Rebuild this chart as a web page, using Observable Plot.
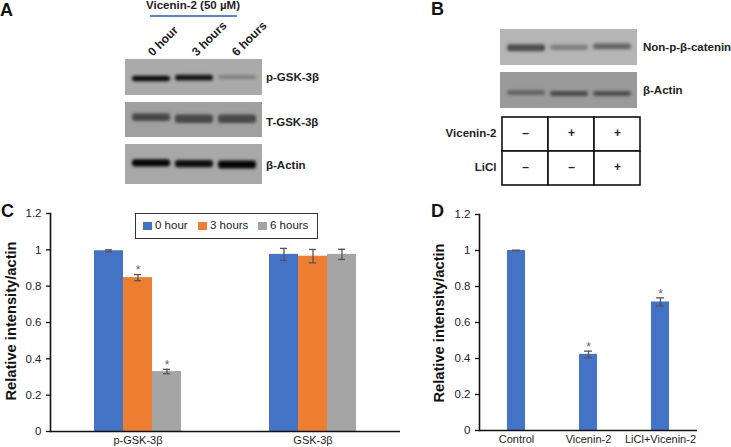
<!DOCTYPE html>
<html><head><meta charset="utf-8">
<script src="https://cdn.jsdelivr.net/npm/d3@7"></script>
<script src="https://cdn.jsdelivr.net/npm/@observablehq/plot@0.6"></script>
<style>
html,body{margin:0;padding:0;background:#fff}
#page{position:relative;width:731px;height:447px;overflow:hidden;font-family:"Liberation Sans",Arial,sans-serif;color:#111}
#page>svg,#page>.abs{position:absolute}
.b{font-weight:bold;font-size:11px;white-space:nowrap;color:#222}
.letter{font-weight:bold;font-size:18px;color:#111}
</style></head><body><div id="page"></div>
<script>
// Chart C
const groupsC = ["p-GSK-3β", "GSK-3β"];
const seriesC = ["0 hour", "3 hours", "6 hours"];
const pGskValues = [0.995, 0.847, 0.33];
const pGskErrors = [0.005, 0.017, 0.012];
const gskValues = [0.975, 0.965, 0.975];
const gskErrors = [0.033, 0.037, 0.028];
const pGskStars = [false, true, true];
const colorsC = ["#4472C4", "#ED7D31", "#A5A5A5"];
// Chart D
const categoriesD = ["Control", "Vicenin-2", "LiCl+Vicenin-2"];
const valuesD = [1, 0.423, 0.714];
const errorsD = [0.002, 0.018, 0.023];
const starsD = [false, true, true];
const yTicks = [0, 0.2, 0.4, 0.6, 0.8, 1, 1.2];
// Western blots: band darkness, centre (% of panel height), thickness (%)
const lanes = ["L1", "L2", "L3"];
const blotA1 = {name:"p-GSK-3β", dark:[1,0.95,0.3], centre:[54,52,50], thick:[15,16,10]};
const blotA2 = {name:"T-GSK-3β", dark:[0.75,0.75,0.75], centre:[43,48,48], thick:[22,24,24]};
const blotA3 = {name:"β-Actin", dark:[1,0.95,1], centre:[47,49,51], thick:[18,18,20]};
const blotB1 = {name:"Non-p-β-catenin", dark:[0.75,0.4,0.6], centre:[52,51,48], thick:[19,14,16]};
const blotB2 = {name:"β-Actin", dark:[0.55,0.75,0.7], centre:[57,60,60], thick:[12,14,14]};
const tableRows = ["Vicenin-2", "LiCl"];
const tableVicenin = ["–", "+", "+"];
const tableLiCl = ["–", "–", "+"];

const page = document.getElementById("page");
function place(el, left, top){ el.style.left = left + "px"; el.style.top = top + "px"; page.appendChild(el); return el; }
function html(text, left, top, cls, extra){
  const d = document.createElement("div"); d.className = "abs " + cls; d.textContent = text;
  if (extra) d.setAttribute("style", extra);
  return place(d, left, top);
}
const font = '"Liberation Sans",Arial,sans-serif';

function blot(panel, left, top, w, h, bg, bandColor, labelX, labelShift){
  const data = lanes.map((l, i) => ({lane:l, dark:panel.dark[i], y1:panel.centre[i]-panel.thick[i]/2, y2:panel.centre[i]+panel.thick[i]/2}));
  const p = Plot.plot({
    width:w, height:h, margin:0, style:{background:bg},
    x:{domain:lanes, type:"band", padding:0.12, axis:null},
    y:{domain:[100,0], axis:null},
    color:{type:"linear", domain:[0,1], range:[bg, bandColor]},
    marks:[Plot.barY(data,{x:"lane", y1:"y1", y2:"y2", fill:"dark", rx:3, imageFilter:"blur(1.6px)"})]
  });
  place(p, left, top);
  html(panel.name, labelX, top + h*0.5 - 7 + labelShift, "b", "font-size:11.5px");
}
blot(blotA1,125,59,137,36,"#aaaaaa","#0c0c0c",266,1);
blot(blotA2,125,102,137,35,"#a0a0a0","#2a2a2a",266,3);
blot(blotA3,125,144,137,40,"#a8a8a8","#060606",266,2);
blot(blotB1,500,29,137,36,"#b5b5b5","#2c2c2c",643,1);
blot(blotB2,500,72,137,36,"#9a9a9a","#2e2e2e",643,1);

html("A",0,0,"letter");
html("B",431,-1,"letter");
html("C",1,201,"letter");
html("D",431,201,"letter");
html("Vicenin-2 (50 µM)",146,0,"b","font-size:11.5px;line-height:1");
const line = document.createElement("div"); line.className="abs";
line.setAttribute("style","width:87px;height:2px;background:#5f83b8"); place(line,150,15);
[["0 hour",150,47],["3 hours",194,47],["6 hours",234,47]].forEach(([t,x,y]) => {
  html(t,x,y,"b","font-size:12px;transform:rotate(-45deg);transform-origin:left center");
});
const yLabelStyle = "font-size:14.7px;color:#111;transform:translate(-50%,-50%) rotate(-90deg)";
html("Relative intensity/actin",11,321,"b",yLabelStyle);
html("Relative intensity/actin",439,323,"b",yLabelStyle);

// Table B
const tableData = tableRows.flatMap((r,ri)=>lanes.map((l,i)=>({row:r,lane:l,mark:(ri?tableLiCl:tableVicenin)[i]})));
place(Plot.plot({
  width:210, height:72, marginLeft:70, marginRight:1, marginTop:1, marginBottom:2,
  style:{background:"transparent", fontFamily:font},
  x:{domain:lanes, axis:null, padding:0},
  y:{domain:tableRows, padding:0, axis:null},
  marks:[
    Plot.axisY(tableRows,{tickSize:0, tickPadding:5, fontSize:11.5, fontWeight:"bold", fill:"#222", label:null, dy:-1}),
    Plot.cell(tableData,{x:"lane", y:"row", fill:"white", stroke:"#111", strokeWidth:1.6}),
    Plot.text(tableData,{x:"lane", y:"row", text:"mark", fontSize:12, fontWeight:"bold", fill:"#222", dy:-1})
  ]
}),431,115);

function yAxisMarks(){
  return [
    Plot.axisY(yTicks,{tickSize:4, tickPadding:5, fontSize:11.5, fill:"#222", label:null, tickFormat:d=>String(d), strokeWidth:1.3, stroke:"#111"}),
    Plot.frame({anchor:"left", facetAnchor:"left", stroke:"#111", strokeWidth:1.6})
  ];
}

// Chart C
const dataC = groupsC.flatMap((g,gi)=>seriesC.map((s,i)=>({
  group:g, series:s,
  value:(gi?gskValues:pGskValues)[i], err:(gi?gskErrors:pGskErrors)[i],
  star:gi?false:pGskStars[i]
})));
place(Plot.plot({
  width:402, height:247, marginLeft:50, marginRight:2, marginTop:13, marginBottom:16,
  style:{background:"transparent", fontFamily:font, fontSize:"11px", color:"#222"},
  fx:{domain:groupsC, padding:0, label:null, axis:"bottom", tickSize:0, tickPadding:5},
  x:{domain:seriesC, paddingInner:0, paddingOuter:1.5, axis:null},
  y:{domain:[0,1.2], axis:null, label:null},
  color:{domain:seriesC, range:colorsC},
  marks:[
    ...yAxisMarks(),
    Plot.barY(dataC,{fx:"group", x:"series", y:"value", fill:"series"}),
    Plot.ruleX(dataC,{fx:"group", x:"series", y1:d=>d.value-d.err, y2:d=>d.value+d.err, stroke:"#555", strokeWidth:1.3}),
    Plot.tickY(dataC,{fx:"group", x:"series", y:d=>d.value-d.err, stroke:"#555", strokeWidth:1.3, insetLeft:11, insetRight:11}),
    Plot.tickY(dataC,{fx:"group", x:"series", y:d=>d.value+d.err, stroke:"#555", strokeWidth:1.3, insetLeft:11, insetRight:11}),
    Plot.text(dataC.filter(d=>d.star),{fx:"group", x:"series", y:d=>d.value+d.err, text:()=>"*", dy:-4, fontSize:12, fill:"#666"}),
    Plot.ruleY([0],{stroke:"#111", strokeWidth:1.6})
  ]
}),0,200);

// Legend C
const legend = document.createElement("div"); legend.className="abs";
legend.setAttribute("style","width:181px;height:24px;border:1px solid #333;background:#fff;font-size:11.5px;color:#222;box-sizing:content-box");
seriesC.forEach((s,i)=>{
  const lefts=[7,62,122];
  const sw=document.createElement("span");
  sw.setAttribute("style",`position:absolute;left:${lefts[i]}px;top:8px;width:9px;height:8px;background:${colorsC[i]}`);
  const t=document.createElement("span"); t.textContent=s;
  t.setAttribute("style",`position:absolute;left:${lefts[i]+12}px;top:5px;white-space:nowrap`);
  legend.append(sw,t);
});
place(legend,135,213);

// Chart D
const dataD = categoriesD.map((c,i)=>({cat:c,value:valuesD[i],err:errorsD[i],star:starsD[i]}));
place(Plot.plot({
  width:268, height:247, marginLeft:50, marginRight:0, marginTop:14, marginBottom:17,
  style:{background:"transparent", fontFamily:font, fontSize:"11px", color:"#222"},
  x:{domain:categoriesD, paddingInner:0.75, paddingOuter:0.375, axis:"bottom", tickSize:0, tickPadding:5, label:null},
  y:{domain:[0,1.2], axis:null, label:null},
  marks:[
    ...yAxisMarks(),
    Plot.barY(dataD,{x:"cat", y:"value", fill:"#4472C4"}),
    Plot.ruleX(dataD,{x:"cat", y1:d=>d.value-d.err, y2:d=>d.value+d.err, stroke:"#555", strokeWidth:1.3}),
    Plot.tickY(dataD,{x:"cat", y:d=>d.value-d.err, stroke:"#555", strokeWidth:1.3, insetLeft:5, insetRight:5}),
    Plot.tickY(dataD,{x:"cat", y:d=>d.value+d.err, stroke:"#555", strokeWidth:1.3, insetLeft:5, insetRight:5}),
    Plot.text(dataD.filter(d=>d.star),{x:"cat", y:d=>d.value+d.err, text:()=>"*", dy:-4, fontSize:12, fill:"#666"}),
    Plot.ruleY([0],{stroke:"#111", strokeWidth:1.6})
  ]
}),429,200);
</script></body></html>
